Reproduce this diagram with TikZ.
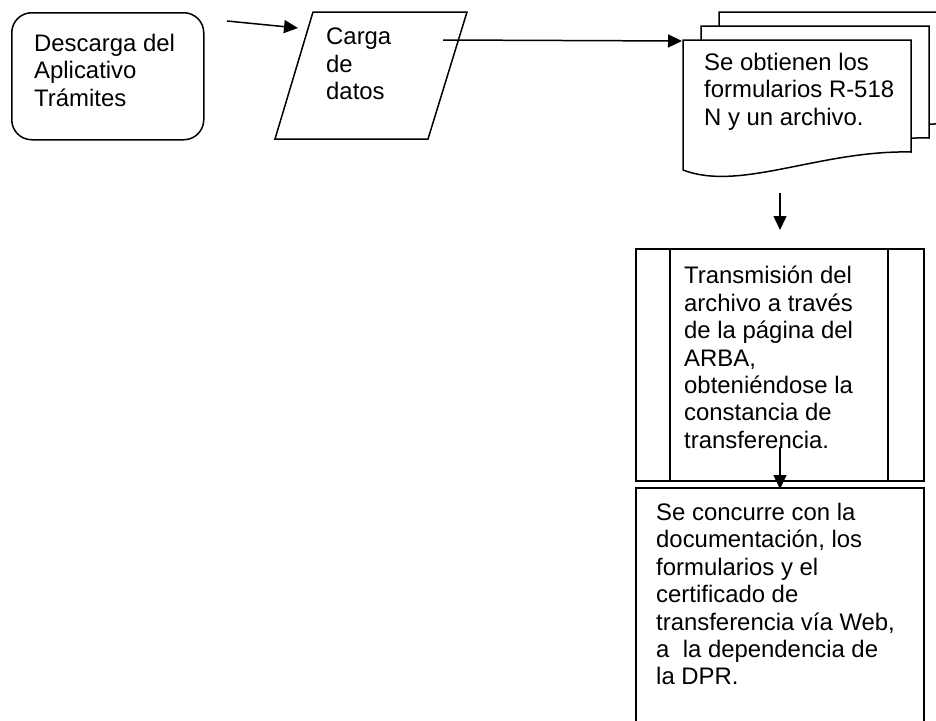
\documentclass[tikz,border=0pt]{standalone}
\usepackage{fontspec}
\setmainfont{Liberation Sans}
\usetikzlibrary{arrows.meta}
\newcommand\mydocpath{(683,40) -- (911,40) -- (911,152) .. controls (820,150) and (740,192) .. (683,170) -- cycle}
\begin{document}
\begin{tikzpicture}[x=1pt,y=-1pt,
  shapeline/.style={line width=1.5pt},
  flow/.style={line width=1.5pt,-{Triangle[length=14pt,width=13pt]}},
  txt/.style={anchor=north west,inner sep=0pt,align=left,font=\fontsize{23.9}{27.4}\selectfont},
  docshape/.style={line width=1.5pt,fill=white}]
\useasboundingbox (0,0) rectangle (936,720);
\clip (0,0) rectangle (936,720);

% start: rounded box
\node[draw,shapeline,rounded corners=20pt,minimum width=192pt,minimum height=127pt,anchor=north west,inner sep=0pt] (start) at (11,12) {};
\node[txt] (starttxt) at (34,34) {Descarga del\\Aplicativo\\Trámites};

% data: parallelogram
\draw[shapeline] (313,12) -- (467,12) -- (428,139) -- (275,139) -- cycle;
\node[txt] (datatxt) at (326,28) {Carga\\de\\datos};

% multi-document
\draw[docshape,shift={(36,-28)}] \mydocpath;
\draw[docshape,shift={(18,-14)}] \mydocpath;
\draw[docshape] \mydocpath;
\node[txt] (doctxt) at (704,53) {Se obtienen los\\formularios R-518\\N y un archivo.};

% predefined process
\node[draw,shapeline,minimum width=288pt,minimum height=232pt,anchor=north west,inner sep=0pt] (proc) at (635,248) {};
\draw[shapeline] (670,248) -- (670,480);
\draw[shapeline] (888,248) -- (888,480);
\node[txt] (proctxt) at (684,266) {Transmisión del\\archivo a través\\de la página del\\ARBA,\\obteniéndose la\\constancia de\\transferencia.};

% final box
\node[draw,shapeline,minimum width=288pt,minimum height=243pt,anchor=north west,inner sep=0pt] (final) at (635,487) {};
\node[txt] (finaltxt) at (656,503) {Se concurre con la\\documentación, los\\formularios y el\\certificado de\\transferencia vía Web,\\a\ \ la dependencia de\\la DPR.};

% connectors
\coordinate (a1s) at (227,21);
\coordinate (a1e) at (298,28);
\coordinate (a2s) at (443,40);
\coordinate (a2e) at (682,41);
\coordinate (a3s) at (780,193);
\coordinate (a3e) at (780,230);
\coordinate (a4s) at (780,447);
\coordinate (a4e) at (780,489);
\draw[flow] (a1s) -- (a1e);
\draw[flow] (a2s) -- (a2e);
\draw[flow] (a3s) -- (a3e);
\draw[flow] (a4s) -- (a4e);
\end{tikzpicture}
\end{document}
